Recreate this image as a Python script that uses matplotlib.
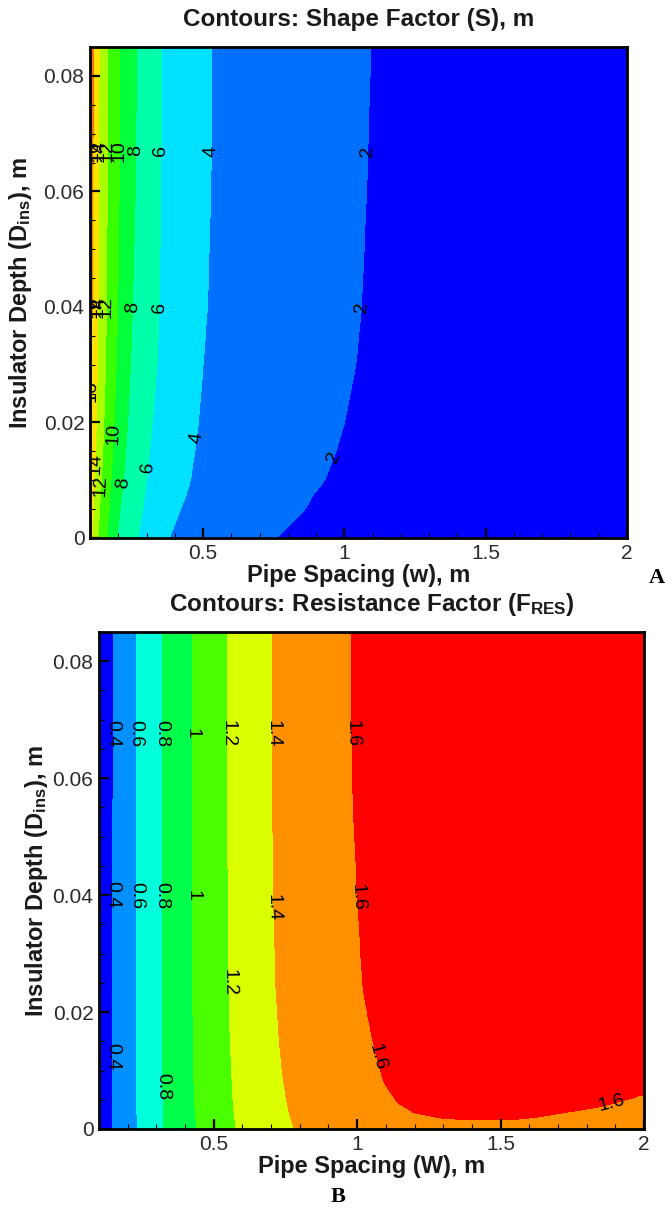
import numpy as np
import matplotlib
matplotlib.use("Agg")
import matplotlib.pyplot as plt
from matplotlib.colors import LinearSegmentedColormap
from matplotlib.ticker import MultipleLocator, FixedLocator

plt.rcParams['font.family'] = ['Liberation Sans', 'DejaVu Sans']
plt.rcParams['mathtext.fontset'] = 'custom'
plt.rcParams['mathtext.rm'] = 'Liberation Sans:bold'
plt.rcParams['mathtext.it'] = 'Liberation Sans:bold'
plt.rcParams['mathtext.bf'] = 'Liberation Sans:bold'

# ---------------- Panel A : Shape factor S (contour positions w at each depth) ----------------
depth_A = [0.0, 0.0025, 0.005, 0.0075, 0.01, 0.015, 0.02, 0.03, 0.04, 0.06, 0.085]
edge_A  = [14.5, 14.9, 15.3, 15.6, 15.9, 16.3, 16.6, 17.0, 17.3, 17.7, 18.2]   # S at w = 0.1
S16_w = [0.100, 0.101, 0.103, 0.105, 0.107, 0.109, 0.113]
S16_d = [0.011, 0.015, 0.020, 0.030, 0.040, 0.060, 0.085]
S14_w = [0.108, 0.110, 0.112, 0.114, 0.116, 0.119, 0.122, 0.126, 0.128, 0.130, 0.132]
S12_w = [0.128, 0.131, 0.134, 0.137, 0.140, 0.145, 0.149, 0.155, 0.158, 0.161, 0.163]
S10_w = [0.160, 0.163, 0.167, 0.170, 0.174, 0.180, 0.185, 0.193, 0.198, 0.203, 0.206]
S8_w  = [0.195, 0.200, 0.206, 0.212, 0.218, 0.226, 0.233, 0.243, 0.250, 0.260, 0.265]
S6_w  = [0.270, 0.278, 0.287, 0.293, 0.300, 0.310, 0.320, 0.337, 0.345, 0.350, 0.353]
S4_w  = [0.380, 0.400, 0.420, 0.440, 0.455, 0.470, 0.483, 0.500, 0.515, 0.527, 0.530]
S2_w  = [0.760, 0.810, 0.860, 0.890, 0.930, 0.970, 1.000, 1.040, 1.060, 1.078, 1.093]
right_A = 1.2   # S at w = 2
levels_A = [0, 2, 4, 6, 8, 10, 12, 14, 16, 18, 20]

# ---------------- Panel B : Resistance factor F_RES ----------------
depth_B = [0.0, 0.0015, 0.003, 0.006, 0.01, 0.016, 0.024, 0.04, 0.06, 0.085]
edge_B  = 0.30   # F at w = 0.1
F04_w = [0.146, 0.146, 0.146, 0.147, 0.147, 0.147, 0.148, 0.148, 0.149, 0.149]
F06_w = [0.233, 0.233, 0.232, 0.232, 0.231, 0.231, 0.230, 0.230, 0.229, 0.229]
F08_w = [0.325, 0.325, 0.324, 0.323, 0.322, 0.322, 0.321, 0.320, 0.320, 0.320]
F10_w = [0.440, 0.438, 0.435, 0.432, 0.430, 0.428, 0.427, 0.426, 0.425, 0.425]
F12_w = [0.578, 0.574, 0.570, 0.566, 0.562, 0.557, 0.553, 0.550, 0.548, 0.548]
F14_w = [0.780, 0.770, 0.762, 0.750, 0.738, 0.727, 0.717, 0.708, 0.705, 0.705]
# the 1.6 contour: traced path from the top edge down and round to the right edge
F16_w = [0.978, 0.982, 1.000, 1.020, 1.050, 1.075, 1.093, 1.142, 1.200, 1.300, 1.410, 1.500, 1.620, 1.850, 2.000]
F16_d = [0.085, 0.060, 0.040, 0.024, 0.016, 0.011, 0.008, 0.0044, 0.0027, 0.0018, 0.0015, 0.0015, 0.0020, 0.0038, 0.0058]
F_right_high, F_right_low, F_peak = 1.72, 1.57, 1.63
levels_B = [0.2, 0.4, 0.6, 0.8, 1.0, 1.2, 1.4, 1.6, 1.8]

# label placements (level, depth)
labels_A = [(2, 0.067), (4, 0.067), (6, 0.067), (8, 0.067), (10, 0.067), (12, 0.067), (14, 0.067), (16, 0.067),
            (2, 0.040), (6, 0.040), (8, 0.040), (12, 0.040), (14, 0.040), (16, 0.040),
            (16, 0.0255), (10, 0.018), (4, 0.0174), (14, 0.0129), (12, 0.0091),
            (6, 0.0122), (8, 0.0095), (2, 0.0140)]
labels_B = [(0.4, 0.0677), (0.6, 0.0677), (0.8, 0.0677), (1.0, 0.0677), (1.2, 0.0677), (1.4, 0.0677), (1.6, 0.0677),
            (0.4, 0.040), (0.6, 0.040), (0.8, 0.040), (1.0, 0.040), (1.4, 0.0378), (1.6, 0.0397),
            (1.2, 0.025), (0.4, 0.0123), (0.8, 0.0072), (1.6, 0.0123)]
label_B_rightbranch = (1.6, 0.0043)

rainbow = LinearSegmentedColormap.from_list('tec', ['#0000ff', '#00ffff', '#00ff00', '#ffff00', '#ff0000'])
w_fine = np.linspace(0.1, 2.0, 700)
d_fine = np.linspace(0.0, 0.085, 420)


def crossings(pw, pd, d):
    out = []
    for j in range(len(pw) - 1):
        d0, d1 = pd[j], pd[j + 1]
        if d0 == d1:
            continue
        if min(d0, d1) <= d <= max(d0, d1):
            t = (d - d0) / (d1 - d0)
            wc = pw[j] + t * (pw[j + 1] - pw[j])
            if not any(abs(wc - o) < 1e-9 for o in out):
                out.append(wc)
    return sorted(out)


def build_field(paths, edge_fn, right_fn, peak):
    rows = []
    for d in d_fine:
        knots = []
        for lv, (pw, pd) in paths.items():
            for wc in crossings(pw, pd, d):
                knots.append((wc, lv))
        knots.sort()
        # between two crossings of the same level the field rises above it
        full = []
        for k, (wk, lv) in enumerate(knots):
            full.append((wk, lv))
            if k + 1 < len(knots) and knots[k + 1][1] == lv:
                full.append((0.5 * (wk + knots[k + 1][0]), peak))
        kw = [0.1] + [p[0] for p in full] + [2.0]
        kz = [edge_fn(d)] + [p[1] for p in full] + [right_fn(d, knots)]
        rows.append(np.interp(w_fine, kw, kz))
    return np.array(rows)


pathsA = {16: (S16_w, S16_d), 14: (S14_w, depth_A), 12: (S12_w, depth_A), 10: (S10_w, depth_A),
          8: (S8_w, depth_A), 6: (S6_w, depth_A), 4: (S4_w, depth_A), 2: (S2_w, depth_A)}
ZA = build_field(pathsA, lambda d: float(np.interp(d, depth_A, edge_A)), lambda d, k: right_A, 19.0)

pathsB = {0.4: (F04_w, depth_B), 0.6: (F06_w, depth_B), 0.8: (F08_w, depth_B), 1.0: (F10_w, depth_B),
          1.2: (F12_w, depth_B), 1.4: (F14_w, depth_B), 1.6: (F16_w, F16_d)}


def right_B(d, knots):
    n16 = sum(1 for k in knots if k[1] == 1.6)
    return F_right_high if n16 % 2 == 1 else F_right_low


ZB = build_field(pathsB, lambda d: edge_B, right_B, F_peak)

fig = plt.figure(figsize=(6.65, 12.11), dpi=100)
W, H = 665.0, 1211.0
axA = fig.add_axes([90 / W, 1 - 538 / H, (627 - 90) / W, (538 - 47) / H])
axB = fig.add_axes([99 / W, 1 - 1129 / H, (644 - 99) / W, (1129 - 632) / H])

tick_col = '#2a2a2a'
txt_col = '#1a1a1a'


def style(ax):
    ax.set_xlim(0.1, 2.0)
    ax.set_ylim(0, 0.085)
    ax.xaxis.set_major_locator(FixedLocator([0.5, 1.0, 1.5, 2.0]))
    ax.xaxis.set_minor_locator(MultipleLocator(0.1))
    ax.yaxis.set_major_locator(FixedLocator([0, 0.02, 0.04, 0.06, 0.08]))
    ax.yaxis.set_minor_locator(MultipleLocator(0.005))
    ax.tick_params(which='major', direction='in', length=7, width=1.6, labelsize=15,
                   labelcolor=tick_col, top=False, right=False, pad=4)
    ax.tick_params(which='minor', direction='in', length=3.5, width=0.8, top=False, right=False)
    ax.set_xticklabels(['0.5', '1', '1.5', '2'])
    ax.set_yticklabels(['0', '0.02', '0.04', '0.06', '0.08'])
    for s in ax.spines.values():
        s.set_linewidth(2.0)
        s.set_color('black')


def fix_rot(texts, flip):
    for t in texts:
        r = t.get_rotation()
        if r > 180:
            r -= 360
        if flip and r > 45:
            r -= 180
        t.set_rotation(r)


# Panel A
colsA = [rainbow(i / 9) for i in range(10)]
axA.contourf(w_fine, d_fine, ZA, levels=levels_A, colors=colsA)
csA = axA.contour(w_fine, d_fine, ZA, levels=levels_A[1:9], colors='none')
ptsA = [(crossings(*pathsA[lv], d)[0], d) for lv, d in labels_A]
txA = axA.clabel(csA, levels=levels_A[1:9], manual=ptsA, inline=False, fontsize=14, colors='k', fmt='%g')
fix_rot(txA, False)
style(axA)
axA.set_title('Contours: Shape Factor (S), m', fontsize=17.5, fontweight='bold', color=txt_col, pad=15)
axA.set_xlabel('Pipe Spacing (w), m', fontsize=17, fontweight='bold', color=txt_col, labelpad=1)
axA.set_ylabel(r'Insulator Depth (D$_{\mathrm{ins}}$), m', fontsize=17, fontweight='bold', color=txt_col)
axA.yaxis.set_label_coords(-0.104, 0.5)

# Panel B
colsB = [rainbow(i / 7) for i in range(8)]
axB.contourf(w_fine, d_fine, ZB, levels=levels_B, colors=colsB)
csB = axB.contour(w_fine, d_fine, ZB, levels=levels_B[1:8], colors='none')
ptsB = [(crossings(*pathsB[lv], d)[0], d) for lv, d in labels_B]
lv_r, d_r = label_B_rightbranch
ptsB.append((crossings(*pathsB[lv_r], d_r)[-1], d_r))
txB = axB.clabel(csB, levels=levels_B[1:8], manual=ptsB, inline=False, fontsize=14, colors='k', fmt='%g')
fix_rot(txB, True)
style(axB)
axB.set_title(r'Contours: Resistance Factor (F$_{\mathrm{RES}}$)', fontsize=17.5, fontweight='bold',
              color=txt_col, pad=15)
axB.set_xlabel('Pipe Spacing (W), m', fontsize=17, fontweight='bold', color=txt_col, labelpad=1)
axB.set_ylabel(r'Insulator Depth (D$_{\mathrm{ins}}$), m', fontsize=17, fontweight='bold', color=txt_col)
axB.yaxis.set_label_coords(-0.09, 0.5)

fig.text(657 / W, 1 - 578 / H, 'A', fontsize=16, fontweight='bold', family='Liberation Serif',
         ha='center', va='center')
fig.text(338 / W, 1 - 1197 / H, 'B', fontsize=16, fontweight='bold', family='Liberation Serif',
         ha='center', va='center')

fig.savefig('out.png', dpi=100)
